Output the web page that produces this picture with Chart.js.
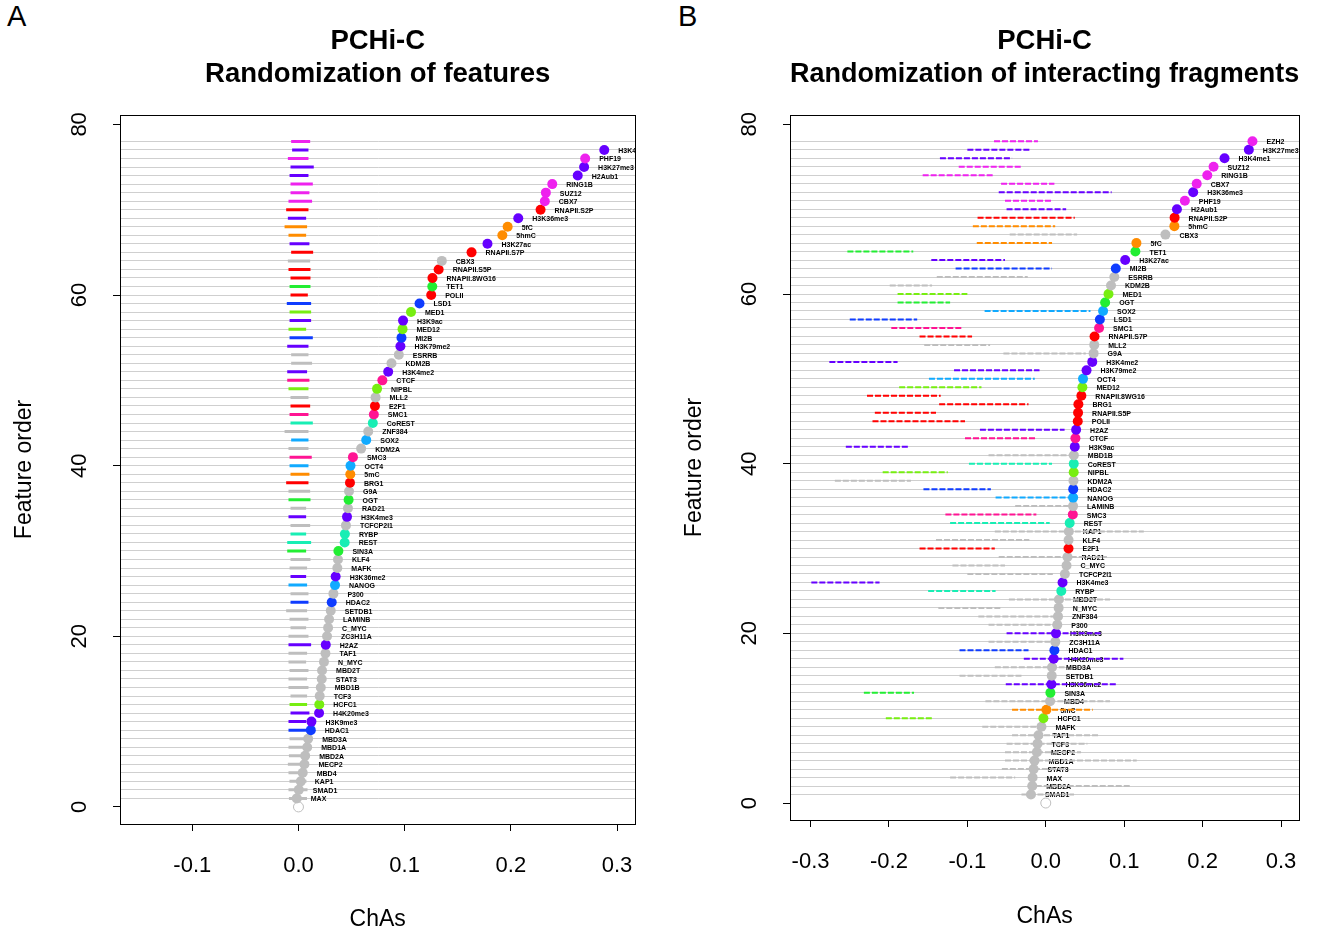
<!DOCTYPE html>
<html>
<head>
<meta charset="utf-8">
<title>PCHi-C ChAs randomization</title>
<script src="https://cdn.jsdelivr.net/npm/chart.js@4.4.0/dist/chart.umd.min.js"></script>
<style>
  body { margin: 0; background: #fff; width: 1319px; height: 933px; position: relative; overflow: hidden;
         font-family: "Liberation Sans", Arial, sans-serif; }
  canvas { position: absolute; top: 0; }
  .tag { position: absolute; top: 0px; font-size: 29px; color: #000; }
</style>
</head>
<body>
<div class="tag" style="left:7px">A</div>
<div class="tag" style="left:678px">B</div>
<canvas id="chartA" width="655" height="933" style="left:0"></canvas>
<canvas id="chartB" width="649" height="933" style="left:670px"></canvas>

<script>
// Panel A: features ordered by ChAs (feature order 1..78)
const featuresA = ['MAX','SMAD1','KAP1','MBD4','MECP2','MBD2A','MBD1A','MBD3A','HDAC1','H3K9me3',
  'H4K20me3','HCFC1','TCF3','MBD1B','STAT3','MBD2T','N_MYC','TAF1','H2AZ','ZC3H11A',
  'C_MYC','LAMINB','SETDB1','HDAC2','P300','NANOG','H3K36me2','MAFK','KLF4','SIN3A',
  'REST','RYBP','TCFCP2l1','H3K4me3','RAD21','OGT','G9A','BRG1','5mC','OCT4',
  'SMC3','KDM2A','SOX2','ZNF384','CoREST','SMC1','E2F1','MLL2','NIPBL','CTCF',
  'H3K4me2','KDM2B','ESRRB','H3K79me2','MI2B','MED12','H3K9ac','MED1','LSD1','POLII',
  'TET1','RNAPII.8WG16','RNAPII.S5P','CBX3','RNAPII.S7P','H3K27ac','5hmC','5fC','H3K36me3','RNAPII.S2P',
  'CBX7','SUZ12','RING1B','H2Aub1','H3K27me3','PHF19','H3K4me1','EZH2'];
const chasA = [-0.0016,0.0003,0.0022,0.0040,0.0056,0.0063,0.0082,0.0091,0.0116,0.0122,
  0.0194,0.0196,0.0200,0.0210,0.0219,0.0222,0.0240,0.0254,0.0257,0.0269,
  0.0279,0.0288,0.0304,0.0313,0.0329,0.0344,0.0350,0.0366,0.0372,0.0376,
  0.0435,0.0437,0.0447,0.0457,0.0466,0.0472,0.0476,0.0485,0.0488,0.0490,
  0.0513,0.0590,0.0638,0.0657,0.0700,0.0710,0.0720,0.0726,0.0740,0.0790,
  0.0845,0.0876,0.0945,0.0960,0.0970,0.0980,0.0985,0.1060,0.1140,0.1250,
  0.1260,0.1262,0.1320,0.1350,0.1630,0.1780,0.1920,0.1970,0.2070,0.2280,
  0.2320,0.2330,0.2390,0.2630,0.2690,0.2700,0.2880,0.3300];
// randomized ChAs range per feature (low / high)
const randLowA = [-0.0090,-0.0094,-0.0085,-0.0094,-0.0100,-0.0090,-0.0094,-0.0084,-0.0094,-0.0094,
  -0.0075,-0.0084,-0.0075,-0.0094,-0.0094,-0.0084,-0.0094,-0.0094,-0.0094,-0.0094,
  -0.0075,-0.0084,-0.0116,-0.0075,-0.0075,-0.0094,-0.0075,-0.0084,-0.0075,-0.0106,
  -0.0106,-0.0075,-0.0075,-0.0094,-0.0075,-0.0094,-0.0094,-0.0116,-0.0075,-0.0084,
  -0.0084,-0.0094,-0.0069,-0.0131,-0.0075,-0.0084,-0.0075,-0.0075,-0.0094,-0.0106,
  -0.0106,-0.0069,-0.0069,-0.0106,-0.0084,-0.0094,-0.0084,-0.0084,-0.0110,-0.0075,
  -0.0084,-0.0075,-0.0094,-0.0100,-0.0069,-0.0084,-0.0094,-0.0131,-0.0100,-0.0116,
  -0.0094,-0.0075,-0.0075,-0.0084,-0.0075,-0.0100,-0.0060,-0.0069];
const randHighA = [0.0080,0.0085,0.0075,0.0081,0.0090,0.0085,0.0081,0.0090,0.0072,0.0072,
  0.0103,0.0081,0.0081,0.0094,0.0081,0.0094,0.0072,0.0081,0.0119,0.0094,
  0.0072,0.0094,0.0081,0.0094,0.0094,0.0081,0.0072,0.0081,0.0113,0.0072,
  0.0119,0.0072,0.0110,0.0072,0.0072,0.0113,0.0110,0.0094,0.0103,0.0094,
  0.0125,0.0094,0.0094,0.0094,0.0135,0.0094,0.0110,0.0094,0.0094,0.0103,
  0.0081,0.0128,0.0094,0.0094,0.0135,0.0072,0.0119,0.0119,0.0119,0.0088,
  0.0113,0.0113,0.0113,0.0110,0.0138,0.0103,0.0072,0.0081,0.0072,0.0094,
  0.0128,0.0103,0.0135,0.0094,0.0144,0.0094,0.0094,0.0110];

// Panel B: interacting fragments randomized
const featuresB = ['SMAD1','MBD2A','MAX','STAT3','MBD1A','MECP2','TCF3','TAF1','MAFK','HCFC1',
  '5mC','MBD4','SIN3A','H3K36me2','SETDB1','MBD3A','H4K20me3','HDAC1','ZC3H11A','H3K9me3',
  'P300','ZNF384','N_MYC','MBD2T','RYBP','H3K4me3','TCFCP2l1','C_MYC','RAD21','E2F1',
  'KLF4','KAP1','REST','SMC3','LAMINB','NANOG','HDAC2','KDM2A','NIPBL','CoREST',
  'MBD1B','H3K9ac','CTCF','H2AZ','POLII','RNAPII.S5P','BRG1','RNAPII.8WG16','MED12','OCT4',
  'H3K79me2','H3K4me2','G9A','MLL2','RNAPII.S7P','SMC1','LSD1','SOX2','OGT','MED1',
  'KDM2B','ESRRB','MI2B','H3K27ac','TET1','5fC','CBX3','5hmC','RNAPII.S2P','H2Aub1',
  'PHF19','H3K36me3','CBX7','RING1B','SUZ12','H3K4me1','H3K27me3','EZH2'];
const chasB = [-0.0189,-0.0172,-0.0168,-0.0155,-0.0143,-0.0113,-0.0105,-0.0093,-0.0055,-0.0030,
  0.0008,0.0055,0.0059,0.0072,0.0076,0.0080,0.0101,0.0110,0.0122,0.0130,
  0.0147,0.0156,0.0164,0.0168,0.0198,0.0214,0.0244,0.0265,0.0277,0.0290,
  0.0291,0.0294,0.0305,0.0345,0.0348,0.0349,0.0350,0.0353,0.0356,0.0357,
  0.0358,0.0370,0.0378,0.0387,0.0408,0.0412,0.0416,0.0454,0.0467,0.0475,
  0.0520,0.0593,0.0610,0.0618,0.0622,0.0680,0.0690,0.0731,0.0757,0.0800,
  0.0832,0.0874,0.0893,0.1013,0.1143,0.1156,0.1526,0.1640,0.1643,0.1673,
  0.1774,0.1880,0.1925,0.2060,0.2140,0.2280,0.2590,0.2636];
const randLowB = [-0.031,-0.023,-0.122,-0.056,-0.052,-0.052,-0.050,-0.043,-0.081,-0.204,
  -0.043,-0.077,-0.232,-0.051,-0.110,-0.065,-0.028,-0.110,-0.073,-0.050,
  -0.073,-0.086,-0.137,-0.047,-0.150,-0.299,-0.100,-0.119,-0.060,-0.161,
  -0.140,-0.065,-0.122,-0.128,-0.039,-0.064,-0.156,-0.269,-0.208,-0.098,
  -0.073,-0.255,-0.103,-0.084,-0.221,-0.218,-0.136,-0.228,-0.187,-0.149,
  -0.117,-0.276,-0.054,-0.155,-0.161,-0.197,-0.250,-0.078,-0.189,-0.189,
  -0.199,-0.139,-0.115,-0.146,-0.253,-0.088,-0.046,-0.093,-0.087,-0.050,
  -0.052,-0.060,-0.057,-0.157,-0.111,-0.135,-0.100,-0.066];
const randHighB = [0.036,0.108,-0.039,0.024,0.116,0.045,0.053,0.068,-0.006,-0.144,
  0.060,0.082,-0.168,0.090,-0.031,0.024,0.099,-0.022,0.011,0.070,
  0.011,0.011,-0.056,0.082,-0.064,-0.212,0.009,-0.052,0.078,-0.065,
  -0.021,0.125,0.005,-0.012,0.032,0.030,-0.070,-0.172,-0.125,0.008,
  0.032,-0.175,-0.012,0.024,-0.103,-0.140,-0.022,-0.134,-0.082,-0.014,
  -0.008,-0.189,0.051,-0.071,-0.094,-0.106,-0.164,0.057,-0.122,-0.100,
  -0.145,-0.023,0.008,-0.052,-0.169,0.008,0.040,0.012,0.037,0.026,
  0.007,0.084,0.011,-0.067,-0.031,-0.043,-0.019,-0.010];

const xTicksA = [-0.1, 0.0, 0.1, 0.2, 0.3];
const xTicksB = [-0.3, -0.2, -0.1, 0.0, 0.1, 0.2, 0.3];
const yTickLabels = [0, 20, 40, 60, 80];

// colour groups
const groups = {
  '#6600FF': ['H3K4me1','H3K27me3','H2Aub1','H3K36me3','H3K27ac','H3K9ac','H3K79me2','H3K4me2','H3K4me3','H3K36me2','H2AZ','H4K20me3','H3K9me3'],
  '#EE22EE': ['EZH2','PHF19','RING1B','SUZ12','CBX7'],
  '#FF0000': ['RNAPII.S2P','RNAPII.S7P','RNAPII.S5P','RNAPII.8WG16','POLII','E2F1','BRG1'],
  '#FF8C00': ['5fC','5hmC','5mC'],
  '#22EE33': ['TET1','OGT','SIN3A'],
  '#77EE11': ['MED1','MED12','NIPBL','HCFC1'],
  '#0F3CFF': ['LSD1','MI2B','HDAC2','HDAC1'],
  '#11AAFF': ['SOX2','OCT4','NANOG'],
  '#FF1493': ['CTCF','SMC1','SMC3'],
  '#18EEB4': ['CoREST','RYBP','REST']
};
function colorOf(name) {
  for (const c in groups) {
    if (groups[c].includes(name)) return c;
  }
  return '#BEBEBE';
}

Chart.defaults.font.family = '"Liberation Sans", Arial, sans-serif';
Chart.defaults.color = '#000';

// feature names next to the dots, drawn under the randomization segments
const pointLabels = {
  id: 'pointLabels',
  beforeDatasetsDraw(chart) {
    const ctx = chart.ctx, area = chart.chartArea;
    const meta = chart.getDatasetMeta(0);
    const names = chart.data.datasets[0].names;
    ctx.save();
    ctx.beginPath();
    ctx.rect(area.left, area.top, area.right - area.left, area.bottom - area.top);
    ctx.clip();
    ctx.font = 'bold 7px "Liberation Sans", Arial, sans-serif';
    ctx.fillStyle = '#000';
    ctx.textAlign = 'left';
    ctx.textBaseline = 'middle';
    meta.data.forEach((pt, i) => {
      ctx.fillText(names[i], pt.x + 14, pt.y + 1);
    });
    ctx.restore();
  }
};

// box around the plot + rotated y tick labels (R style)
const frame = {
  id: 'frame',
  afterDraw(chart) {
    const ctx = chart.ctx, a = chart.chartArea, y = chart.scales.y;
    ctx.save();
    ctx.strokeStyle = '#000';
    ctx.lineWidth = 1;
    ctx.strokeRect(Math.round(a.left) + 0.5, Math.round(a.top) + 0.5,
      Math.round(a.right - a.left), Math.round(a.bottom - a.top));
    ctx.font = '22px "Liberation Sans", Arial, sans-serif';
    ctx.fillStyle = '#000';
    ctx.textAlign = 'center';
    ctx.textBaseline = 'middle';
    yTickLabels.forEach(v => {
      ctx.save();
      ctx.translate(a.left - 40, y.getPixelForValue(v));
      ctx.rotate(-Math.PI / 2);
      ctx.fillText(String(v), 0, 0);
      ctx.restore();
    });
    ctx.restore();
  }
};

function makePanel(id, cfg) {
  const nRows = cfg.names.length;
  const datasets = [];

  datasets.push({
    type: 'scatter',
    names: cfg.names,
    data: cfg.chas.map((v, i) => ({ x: v, y: i + 1 })),
    pointRadius: 5,
    pointBorderWidth: 0,
    pointBackgroundColor: cfg.names.map(colorOf),
    clip: 0,
    order: 0
  });
  // reference open circle at ChAs 0, order 0
  datasets.push({
    type: 'scatter',
    data: [{ x: 0, y: 0 }],
    pointRadius: 5,
    pointBorderWidth: 1,
    pointBorderColor: '#BEBEBE',
    pointBackgroundColor: '#FFFFFF',
    order: 0
  });
  for (let i = 0; i < nRows; i++) {
    datasets.push({
      type: 'line',
      data: [{ x: cfg.low[i], y: i + 1 }, { x: cfg.high[i], y: i + 1 }],
      borderColor: colorOf(cfg.names[i]),
      borderWidth: cfg.segWidth,
      borderDash: cfg.segDash,
      pointRadius: 0,
      clip: 0,
      order: 1
    });
  }

  return new Chart(document.getElementById(id), {
    type: 'scatter',
    data: { datasets: datasets },
    plugins: [pointLabels, frame],
    options: {
      responsive: false,
      animation: false,
      events: [],
      layout: { padding: { left: 0, right: cfg.padRight, top: 0, bottom: 0 } },
      plugins: {
        legend: { display: false },
        tooltip: { enabled: false },
        title: {
          display: true,
          text: ['PCHi-C', cfg.title],
          fullSize: false,
          font: { size: 27.5, weight: 'bold', lineHeight: 1.2 },
          color: '#000',
          padding: { top: 25, bottom: 24 }
        }
      },
      scales: {
        x: {
          type: 'linear',
          min: cfg.xMin,
          max: cfg.xMax,
          afterBuildTicks: axis => { axis.ticks = cfg.xTicks.map(v => ({ value: v })); },
          afterFit: scale => { scale.height = cfg.xAxisHeight; },
          grid: { drawOnChartArea: false, color: '#000', tickLength: 7, lineWidth: 1 },
          border: { display: true, color: '#000', width: 1 },
          ticks: {
            autoSkip: false,
            maxRotation: 0,
            padding: 22,
            font: { size: 22 },
            callback: v => Number(v).toFixed(1)
          },
          title: {
            display: true,
            text: 'ChAs',
            font: { size: 23, lineHeight: 1.2 },
            padding: { top: 0, bottom: cfg.xTitlePad }
          }
        },
        y: {
          type: 'linear',
          min: -2,
          max: 81.1,
          afterBuildTicks: axis => {
            const t = [];
            for (let v = 0; v <= 80; v++) t.push({ value: v });
            axis.ticks = t;
          },
          afterFit: scale => { scale.width = 120; },
          grid: {
            lineWidth: 1,
            tickLength: 7,
            color: c => (c.tick && c.tick.value >= 1 && c.tick.value <= nRows) ? '#CFCFCF' : 'rgba(0,0,0,0)',
            tickColor: c => (c.tick && yTickLabels.includes(c.tick.value)) ? '#000' : 'rgba(0,0,0,0)'
          },
          border: { display: true, color: '#000', width: 1 },
          ticks: { display: false, autoSkip: false },
          title: {
            display: true,
            text: 'Feature order',
            font: { size: 23, lineHeight: 1.2 },
            padding: { top: 11, bottom: 0 }
          }
        }
      }
    }
  });
}

makePanel('chartA', {
  names: featuresA, chas: chasA, low: randLowA, high: randHighA,
  title: 'Randomization of features',
  xMin: -0.1681, xMax: 0.3174, xTicks: xTicksA,
  xAxisHeight: 109, xTitlePad: 0, padRight: 18,
  segWidth: 3, segDash: []
});

makePanel('chartB', {
  names: featuresB, chas: chasB, low: randLowB, high: randHighB,
  title: 'Randomization of interacting fragments',
  xMin: -0.3262, xMax: 0.3232, xTicks: xTicksB,
  xAxisHeight: 113, xTitlePad: 3, padRight: 14,
  segWidth: 2, segDash: [6, 2]
});
</script>
</body>
</html>
